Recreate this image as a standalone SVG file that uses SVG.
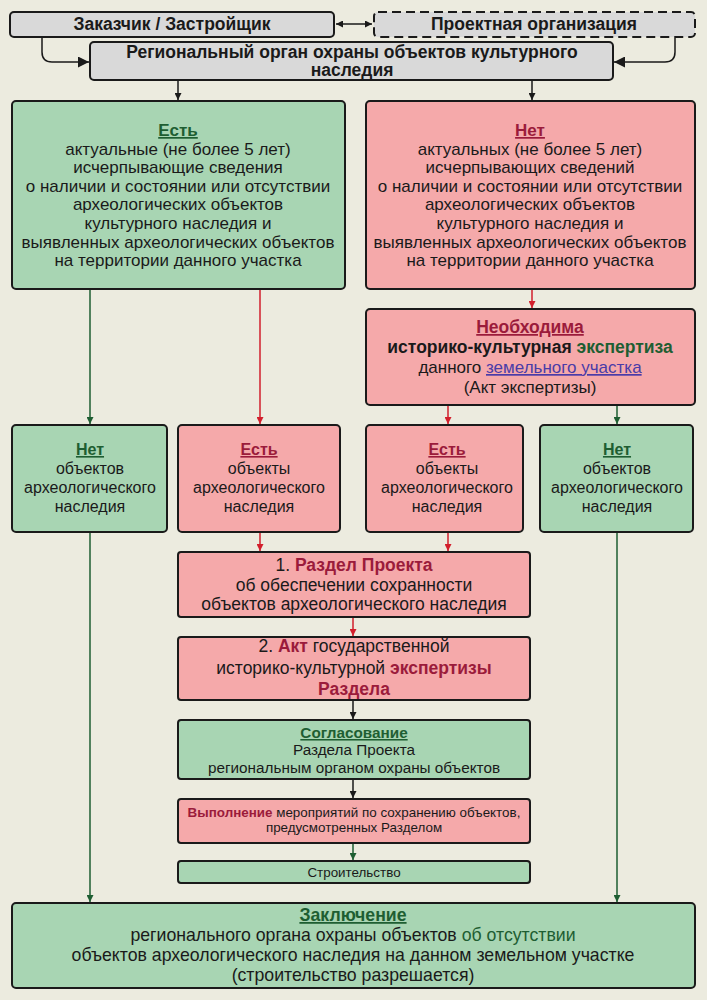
<svg xmlns="http://www.w3.org/2000/svg" width="707" height="1000" viewBox="0 0 707 1000">
<defs>
<style>
text{font-family:"Liberation Sans",Arial,sans-serif;font-size:16px;fill:#1a1a1a;text-anchor:middle}
.hd{font-weight:bold;font-size:17.5px}
.big{font-size:17px}
.b{font-weight:bold}
.r{fill:#9b1b3b;font-weight:bold}
.g{fill:#1e5e32;font-weight:bold}
.u{text-decoration:underline}
.gr{fill:#d9d9d9;stroke:#1a1a1a;stroke-width:2}
.gn{fill:#a8d5b3;stroke:#1a1a1a;stroke-width:2}
.rd{fill:#f5a9aa;stroke:#1a1a1a;stroke-width:2}
.ck{fill:none;stroke:#1a1a1a;stroke-width:1.5}
.cr{fill:none;stroke:#d21f2c;stroke-width:1.5}
.cg{fill:none;stroke:#1e5e32;stroke-width:1.5}
</style>
<marker id="ak" viewBox="0 0 10 10" refX="10" refY="5" markerWidth="7" markerHeight="7" orient="auto-start-reverse" markerUnits="userSpaceOnUse"><path d="M0,0L10,5L0,10z" fill="#1a1a1a"/></marker>
<marker id="ar" viewBox="0 0 10 10" refX="10" refY="5" markerWidth="7" markerHeight="7" orient="auto" markerUnits="userSpaceOnUse"><path d="M0,0L10,5L0,10z" fill="#d21f2c"/></marker>
<marker id="ag" viewBox="0 0 10 10" refX="10" refY="5" markerWidth="7" markerHeight="7" orient="auto" markerUnits="userSpaceOnUse"><path d="M0,0L10,5L0,10z" fill="#1e5e32"/></marker>
<marker id="akb" viewBox="0 0 10 10" refX="10" refY="5" markerWidth="11" markerHeight="11" orient="auto" markerUnits="userSpaceOnUse"><path d="M0,0L10,5L0,10z" fill="#1a1a1a"/></marker>
</defs>
<rect width="707" height="1000" fill="#ecebdf"/>

<g id="connectors">
<path class="ck" d="M336,24H372" marker-start="url(#ak)" marker-end="url(#ak)"/>
<path class="ck" d="M42,38V52Q42,62 52,62H89" marker-end="url(#akb)"/>
<path class="ck" d="M675,38V52Q675,62 665,62H614" marker-end="url(#akb)"/>
<path class="ck" d="M178,81V100" marker-end="url(#ak)"/>
<path class="ck" d="M532,81V100" marker-end="url(#ak)"/>
<path class="cr" d="M532,290V308" marker-end="url(#ar)"/>
<path class="cg" d="M90,290V424" marker-end="url(#ag)"/>
<path class="cr" d="M260,290V424" marker-end="url(#ar)"/>
<path class="cr" d="M448,406V424" marker-end="url(#ar)"/>
<path class="cg" d="M617,406V424" marker-end="url(#ag)"/>
<path class="cr" d="M260,533V551" marker-end="url(#ar)"/>
<path class="cr" d="M448,533V551" marker-end="url(#ar)"/>
<path class="cr" d="M353,618V636" marker-end="url(#ar)"/>
<path class="ck" d="M353,701V719" marker-end="url(#ak)"/>
<path class="ck" d="M353,780V798" marker-end="url(#ak)"/>
<path class="cg" d="M353,844V860" marker-end="url(#ag)"/>
<path class="cg" d="M90,533V902" marker-end="url(#ag)"/>
<path class="cg" d="M617,533V902" marker-end="url(#ag)"/>
</g>

<g id="customer">
<rect class="gr" x="10" y="12" width="324" height="25" rx="4"/>
<text class="hd" x="172" y="30">Заказчик / Застройщик</text>
</g>
<g id="design-org">
<rect class="gr" x="374" y="12" width="321" height="25" rx="4" stroke-dasharray="9,5"/>
<text class="hd" x="534" y="30">Проектная организация</text>
</g>
<g id="regional">
<rect class="gr" x="90" y="42" width="523" height="38" rx="4"/>
<text class="hd" x="352" y="58">Региональный орган охраны объектов культурного</text>
<text class="hd" x="352" y="76">наследия</text>
</g>

<g id="yes-info" class="big">
<rect class="gn" x="12" y="101" width="333" height="188" rx="4"/>
<text class="big" x="178" y="136"><tspan class="g u">Есть</tspan></text>
<text class="big" x="178" y="155">актуальные (не более 5 лет)</text>
<text class="big" x="178" y="173">исчерпывающие сведения</text>
<text class="big" x="178" y="192">о наличии и состоянии или отсутствии</text>
<text class="big" x="178" y="210">археологических объектов</text>
<text class="big" x="178" y="229">культурного наследия и</text>
<text class="big" x="178" y="248">выявленных археологических объектов</text>
<text class="big" x="178" y="266">на территории данного участка</text>
</g>

<g id="no-info">
<rect class="rd" x="366" y="101" width="329" height="188" rx="4"/>
<text class="big" x="530" y="136"><tspan class="r u">Нет</tspan></text>
<text class="big" x="530" y="155">актуальных (не более 5 лет)</text>
<text class="big" x="530" y="173">исчерпывающих сведений</text>
<text class="big" x="530" y="192">о наличии и состоянии или отсутствии</text>
<text class="big" x="530" y="210">археологических объектов</text>
<text class="big" x="530" y="229">культурного наследия и</text>
<text class="big" x="530" y="248">выявленных археологических объектов</text>
<text class="big" x="530" y="266">на территории данного участка</text>
</g>

<g id="expertise">
<rect class="rd" x="366" y="309" width="329" height="96" rx="4"/>
<text x="530" y="333" style="font-size:17.5px"><tspan class="r u">Необходима</tspan></text>
<text x="530" y="353" style="font-size:17.5px"><tspan class="b">историко-культурная </tspan><tspan class="g">экспертиза</tspan></text>
<text x="530" y="373" style="font-size:17px">данного <tspan fill="#4a3ca8" class="u">земельного участка</tspan></text>
<text x="530" y="393" style="font-size:17px">(Акт экспертизы)</text>
</g>

<g id="no-objects-1">
<rect class="gn" x="12" y="425" width="155" height="107" rx="4"/>
<text x="90" y="455"><tspan class="g u">Нет</tspan></text>
<text x="90" y="474">объектов</text>
<text x="90" y="493">археологического</text>
<text x="90" y="512">наследия</text>
</g>
<g id="yes-objects-1">
<rect class="rd" x="178" y="425" width="162" height="107" rx="4"/>
<text x="259" y="455"><tspan class="r u">Есть</tspan></text>
<text x="259" y="474">объекты</text>
<text x="259" y="493">археологического</text>
<text x="259" y="512">наследия</text>
</g>
<g id="yes-objects-2">
<rect class="rd" x="366" y="425" width="157" height="107" rx="4"/>
<text x="447" y="455"><tspan class="r u">Есть</tspan></text>
<text x="447" y="474">объекты</text>
<text x="447" y="493">археологического</text>
<text x="447" y="512">наследия</text>
</g>
<g id="no-objects-2">
<rect class="gn" x="540" y="425" width="153" height="107" rx="4"/>
<text x="617" y="455"><tspan class="g u">Нет</tspan></text>
<text x="617" y="474">объектов</text>
<text x="617" y="493">археологического</text>
<text x="617" y="512">наследия</text>
</g>

<g id="project-section">
<rect class="rd" x="178" y="552" width="352" height="65" rx="3"/>
<text x="354" y="571" style="font-size:17.5px">1. <tspan class="r">Раздел Проекта</tspan></text>
<text x="354" y="591" style="font-size:17.5px">об обеспечении сохранности</text>
<text x="354" y="610" style="font-size:17.5px">объектов археологического наследия</text>
</g>
<g id="act">
<rect class="rd" x="178" y="637" width="352" height="63" rx="3"/>
<text x="354" y="652" style="font-size:17.5px">2. <tspan class="r">Акт</tspan> государственной</text>
<text x="354" y="674" style="font-size:17.5px">историко-культурной <tspan class="r">экспертизы</tspan></text>
<text x="354" y="695" style="font-size:17.5px"><tspan class="r">Раздела</tspan></text>
</g>
<g id="approval">
<rect class="gn" x="178" y="720" width="352" height="59" rx="3"/>
<text x="354" y="738" style="font-size:15.3px"><tspan class="g u">Согласование</tspan></text>
<text x="354" y="755" style="font-size:15.3px">Раздела Проекта</text>
<text x="354" y="773" style="font-size:15.3px">региональным органом охраны объектов</text>
</g>
<g id="execution">
<rect class="rd" x="178" y="799" width="352" height="44" rx="3"/>
<text x="354" y="817" style="font-size:13.4px"><tspan class="r">Выполнение</tspan> мероприятий по сохранению объектов,</text>
<text x="354" y="832" style="font-size:13.4px">предусмотренных Разделом</text>
</g>
<g id="construction">
<rect class="gn" x="178" y="861" width="352" height="22" rx="3"/>
<text x="354" y="877" style="font-size:13.4px">Строительство</text>
</g>

<g id="conclusion">
<rect class="gn" x="12" y="903" width="683" height="85" rx="4"/>
<text x="353" y="921" style="font-size:17.7px"><tspan class="g u">Заключение</tspan></text>
<text x="353" y="941" style="font-size:17.7px">регионального органа охраны объектов <tspan fill="#1e5e32">об отсутствии</tspan></text>
<text x="353" y="961" style="font-size:17.7px">объектов археологического наследия на данном земельном участке</text>
<text x="353" y="981" style="font-size:17.7px">(строительство разрешается)</text>
</g>
</svg>
